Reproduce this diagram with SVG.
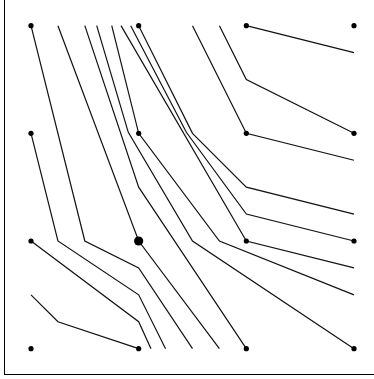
<svg xmlns="http://www.w3.org/2000/svg" width="374" height="379" viewBox="0 0 374 379">
<style>
.frame{stroke:#000;stroke-width:1;fill:none}
.edge{stroke:#111;stroke-width:1.2;fill:none;stroke-linejoin:miter}
.dot{fill:#000}
</style>
<rect width="374" height="379" fill="#fff"/>
<g id="frame">
<line class="frame" x1="4.5" y1="0" x2="4.5" y2="374.5"/>
<line class="frame" x1="4" y1="374.5" x2="374" y2="374.5"/>
</g>
<g id="connectors">
<polyline class="edge" points="31,25.67 84.83,241 138.67,267.92 192.5,348.67"/>
<polyline class="edge" points="31,133.33 57.92,241 138.67,294.83 165.58,348.67"/>
<polyline class="edge" points="31,241 138.67,321.75 151,348.67"/>
<polyline class="edge" points="31,294.83 57.92,321.75 138.67,348.67"/>
<polyline class="edge" points="57.92,25.67 138.67,241 219.42,348.67"/>
<polyline class="edge" points="84.83,25.67 138.67,187.17 246.33,348.67"/>
<polyline class="edge" points="96.7,25.67 128.3,132.3 192.5,241 354,348.67"/>
<polyline class="edge" points="111.75,25.67 138.67,133.33 219.42,241 354,294.83"/>
<polyline class="edge" points="121,25.67 246.33,241 354,267.92"/>
<polyline class="edge" points="130.7,25.67 186.5,132.5 246.33,214.08 354,241"/>
<polyline class="edge" points="138.67,25.67 192.5,133.33 246.33,187.17 354,214.08"/>
<polyline class="edge" points="192.5,25.67 246.33,133.33 354,160.25"/>
<polyline class="edge" points="219.42,25.67 246.33,79.5 354,133.33"/>
<polyline class="edge" points="246.33,25.67 354,52.58"/>
</g>
<g id="n00"><circle class="dot" cx="31" cy="25.67" r="2.6"/></g>
<g id="n10"><circle class="dot" cx="138.67" cy="25.67" r="2.6"/></g>
<g id="n20"><circle class="dot" cx="246.33" cy="25.67" r="2.6"/></g>
<g id="n30"><circle class="dot" cx="354" cy="25.67" r="2.6"/></g>
<g id="n01"><circle class="dot" cx="31" cy="133.33" r="2.6"/></g>
<g id="n11"><circle class="dot" cx="138.67" cy="133.33" r="2.6"/></g>
<g id="n21"><circle class="dot" cx="246.33" cy="133.33" r="2.6"/></g>
<g id="n31"><circle class="dot" cx="354" cy="133.33" r="2.6"/></g>
<g id="n02"><circle class="dot" cx="31" cy="241" r="2.6"/></g>
<g id="n12"><circle class="dot" cx="138.67" cy="241" r="4.6"/></g>
<g id="n22"><circle class="dot" cx="246.33" cy="241" r="2.6"/></g>
<g id="n32"><circle class="dot" cx="354" cy="241" r="2.6"/></g>
<g id="n03"><circle class="dot" cx="31" cy="348.67" r="2.6"/></g>
<g id="n13"><circle class="dot" cx="138.67" cy="348.67" r="2.6"/></g>
<g id="n23"><circle class="dot" cx="246.33" cy="348.67" r="2.6"/></g>
<g id="n33"><circle class="dot" cx="354" cy="348.67" r="2.6"/></g>
</svg>
